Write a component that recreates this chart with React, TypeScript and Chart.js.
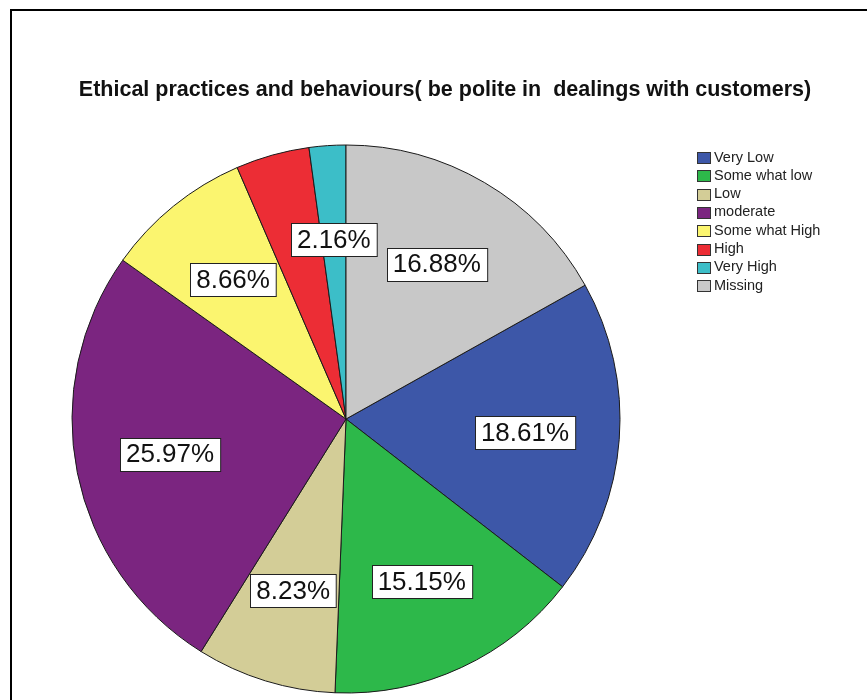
import { useEffect, useRef } from "react";
import { Chart, registerables } from "chart.js";

Chart.register(...registerables);

const titleText = "Ethical practices and behaviours( be polite in  dealings with customers)";
const categories = ["Very Low", "Some what low", "Low", "moderate", "Some what High", "High", "Very High", "Missing"];
const percents = [18.61, 15.15, 8.23, 25.97, 8.66, 4.34, 2.16, 16.88];
const pctLabels = ["18.61%", "15.15%", "8.23%", "25.97%", "8.66%", "", "2.16%", "16.88%"];
const colors = ["#3d57a8", "#2db84a", "#d3cd97", "#7b2580", "#fbf56f", "#ec2d35", "#3cbec8", "#c8c8c8"];

const FONT = "'Liberation Sans', Arial, sans-serif";

const overlayPlugin = {
  id: "overlay",
  afterDatasetsDraw(chart: any) {
    const ctx = chart.ctx;
    const meta = chart.getDatasetMeta(0);
    ctx.save();
    ctx.font = `26px ${FONT}`;
    ctx.textAlign = "center";
    ctx.textBaseline = "middle";
    meta.data.forEach((arc: any, i: number) => {
      const text = pctLabels[i];
      if (!text) return;
      const p = arc.getProps(["x", "y", "startAngle", "endAngle", "outerRadius"], true);
      const mid = (p.startAngle + p.endAngle) / 2;
      const cx = p.x + Math.cos(mid) * p.outerRadius * 0.655;
      const cy = p.y + Math.sin(mid) * p.outerRadius * 0.655;
      const w = ctx.measureText(text).width + 12;
      const h = 33;
      const bx = Math.round(cx - w / 2) + 0.5;
      const by = Math.round(cy - h / 2) + 0.5;
      ctx.fillStyle = "#ffffff";
      ctx.fillRect(bx, by, w, h);
      ctx.strokeStyle = "#222222";
      ctx.lineWidth = 1;
      ctx.strokeRect(bx, by, w, h);
      ctx.fillStyle = "#111111";
      ctx.fillText(text, cx, cy + 1);
    });
    ctx.restore();
  },
  afterDraw(chart: any) {
    const ctx = chart.ctx;
    ctx.save();
    // title
    ctx.font = `bold 21.5px ${FONT}`;
    ctx.fillStyle = "#111111";
    ctx.textAlign = "center";
    ctx.textBaseline = "middle";
    ctx.fillText(titleText, 445, 90);
    // legend
    ctx.font = `14.5px ${FONT}`;
    ctx.textAlign = "left";
    categories.forEach((c, i) => {
      const yc = 157.5 + i * 18.3;
      ctx.fillStyle = colors[i];
      ctx.fillRect(697.5, Math.round(yc - 5.5) + 0.5, 13, 11);
      ctx.strokeStyle = "#333333";
      ctx.lineWidth = 1;
      ctx.strokeRect(697.5, Math.round(yc - 5.5) + 0.5, 13, 11);
      ctx.fillStyle = "#222222";
      ctx.fillText(c, 714, yc);
    });
    ctx.restore();
  },
};

export default function App() {
  const ref = useRef<HTMLCanvasElement | null>(null);
  useEffect(() => {
    if (!ref.current) return;
    const chart = new Chart(ref.current, {
      type: "pie",
      data: {
        labels: categories,
        datasets: [
          {
            data: percents,
            backgroundColor: colors,
            borderColor: "#1a1a1a",
            borderWidth: 1,
          },
        ],
      },
      options: {
        animation: false,
        responsive: false,
        rotation: percents[percents.length - 1] * 3.6,
        layout: { padding: { left: 71.5, top: 144.5, right: 246.5, bottom: 6.5 } },
        plugins: {
          legend: { display: false },
          title: { display: false },
          tooltip: { enabled: false },
        },
      },
      plugins: [overlayPlugin],
    });
    return () => chart.destroy();
  }, []);
  return (
    <div style={{ position: "fixed", left: 0, top: 0, width: 867, height: 700, background: "#ffffff", overflow: "hidden" }}>
      <div
        style={{
          position: "absolute",
          left: 10,
          top: 9,
          width: 900,
          height: 800,
          borderLeft: "2px solid #000",
          borderTop: "2px solid #000",
        }}
      />
      <canvas ref={ref} width={867} height={700} style={{ position: "absolute", left: 0, top: 0 }} />
    </div>
  );
}
